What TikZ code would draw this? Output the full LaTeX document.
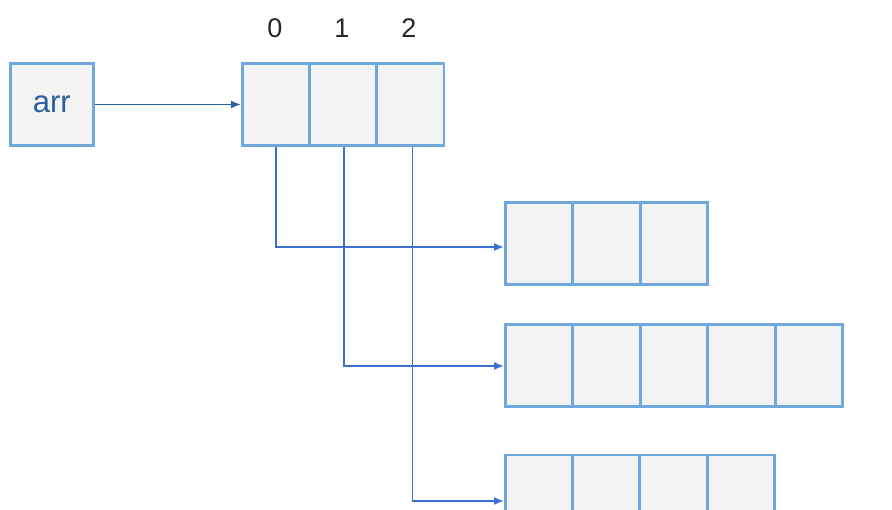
\documentclass[tikz,border=0pt]{standalone}
\usepackage{fontspec}
\setmainfont{Liberation Sans}
\usetikzlibrary{arrows.meta}
\definecolor{cellline}{HTML}{6FA8DC}
\definecolor{cellfill}{HTML}{F3F3F3}
\definecolor{ptrdark}{HTML}{2A5F9E}
\definecolor{ptrblue}{HTML}{3C6FD0}
\tikzset{
  cell/.style={draw=cellline, fill=cellfill, line width=2.6pt, inner sep=0pt,
    minimum width=67pt, minimum height=82pt, anchor=west},
  varbox/.style={cell, minimum width=83pt, text=ptrdark,
    font=\fontsize{31}{36}\selectfont},
  idx/.style={text=black!85, font=\fontsize{27}{32}\selectfont},
  ptr/.style={line width=1.6pt, -{Latex[length=10pt,width=8pt]}},
}
\begin{document}
\begin{tikzpicture}[x=1pt,y=-1pt]
  \useasboundingbox (0,0) rectangle (892,510);
  \clip (0,0) rectangle (892,510);

  % the variable
  \node[varbox] (arr) at (9,104.5) {arr};

  % outer array of three references
  \foreach \i/\n in {0/a,1/b,2/c}
    \node[cell] (m\n) at (241+67.3*\i,104.5) {};
  \node[idx] (i0) at (275,28) {0};
  \node[idx] (i1) at (342,28) {1};
  \node[idx] (i2) at (409,28) {2};

  % inner arrays of lengths 3, 5 and 4
  \foreach \i/\n in {0/a,1/b,2/c}
    \node[cell] (p\n) at (504+67.6*\i,243.5) {};
  \foreach \i/\n in {0/a,1/b,2/c,3/d,4/e}
    \node[cell] (q\n) at (504+67.6*\i,365.5) {};
  \foreach \i/\n in {0/a,1/b,2/c,3/d}
    \node[cell] (r\n) at (504+67.3*\i,496) {};

  % references
  \draw[ptr, ptrdark] (arr.east) -- (ma.west);
  \draw[ptr, ptrblue] (ma.south) |- ([yshift=-3.5pt]pa.west);
  \draw[ptr, ptrblue] ([xshift=1pt]mb.south) |- ([yshift=-0.5pt]qa.west);
  \draw[ptr, ptrblue] ([xshift=2pt]mc.south) |- ([yshift=-5pt]ra.west);
\end{tikzpicture}
\end{document}
